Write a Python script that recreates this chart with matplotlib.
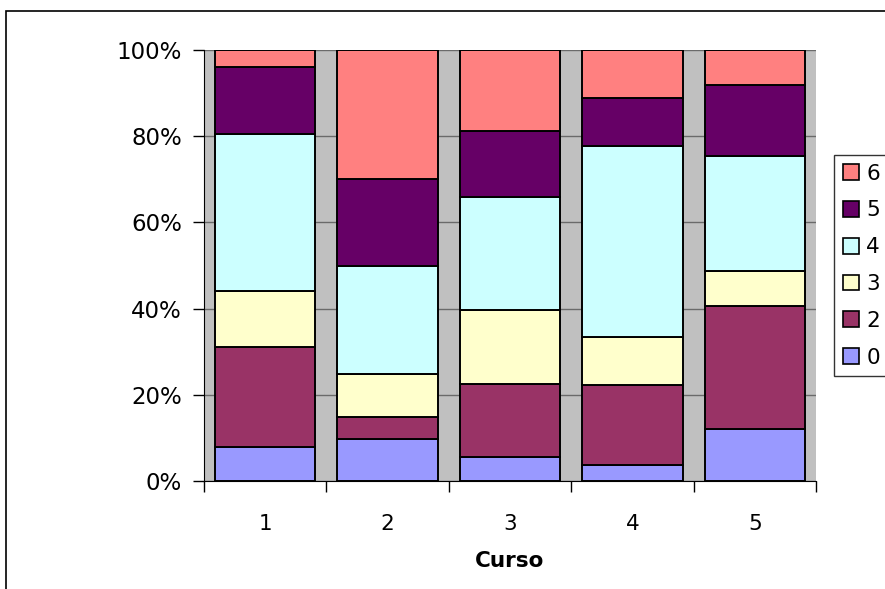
import matplotlib
matplotlib.use("Agg")
import matplotlib.pyplot as plt
from matplotlib.patches import Rectangle, Patch
import numpy as np

plt.rcParams['font.family'] = ['DejaVu Sans']

cursos = ["1", "2", "3", "4", "5"]
series_names = ["0", "2", "3", "4", "5", "6"]
# percentages per curso (stacked, sum 100)
v0 = [7.8, 9.8, 5.6, 3.6, 12.1]
v2 = [23.3, 5.1, 17.0, 18.6, 28.5]
v3 = [13.0, 10.0, 17.0, 11.1, 8.2]
v4 = [36.4, 24.9, 26.3, 44.4, 26.6]
v5 = [15.6, 20.2, 15.3, 11.2, 16.4]
v6 = [3.9, 30.0, 18.8, 11.1, 8.2]
colors = ["#9999FF", "#993366", "#FFFFCC", "#CCFFFF", "#660066", "#FF8080"]
yticklabels = ["0%", "20%", "40%", "60%", "80%", "100%"]

W, H = 885, 589
fig = plt.figure(figsize=(W / 100, H / 100), dpi=100)
fig.patch.set_facecolor("white")

# outer frame
fig.patches.append(Rectangle((6 / W, -0.1), 1.2, 1 - 11 / H + 0.1, transform=fig.transFigure,
                             fill=False, edgecolor="black", linewidth=1.2))

ax = fig.add_axes([204 / W, 1 - 481 / H, (816 - 204) / W, (481 - 50) / H])
ax.set_facecolor("#C0C0C0")

x = np.arange(len(cursos))
data = [v0, v2, v3, v4, v5, v6]
bottom = np.zeros(len(cursos))
handles = []
for name, vals, c in zip(series_names, data, colors):
    ax.bar(x, vals, bottom=bottom, width=0.82, color=c, edgecolor="black",
           linewidth=1.4, zorder=3, label=name)
    bottom += np.array(vals)
    handles.append(Patch(facecolor=c, edgecolor="black", linewidth=1.2, label=name))

ax.set_xlim(-0.5, len(cursos) - 0.5)
ax.set_ylim(0, 100)
ax.set_yticks(np.arange(0, 101, 20))
ax.set_yticklabels(yticklabels)
ax.yaxis.grid(True, color="#6a6a6a", linewidth=1.0, zorder=1)
ax.set_axisbelow(True)

ax.set_xticks(x)
ax.set_xticklabels(cursos)
ax.set_xticks(np.arange(-0.5, len(cursos) + 0.5, 1), minor=True)
ax.tick_params(axis="x", which="major", length=0, pad=24, labelsize=15.5)
ax.tick_params(axis="x", which="minor", length=8, width=1, direction="out", color="black")
ax.tick_params(axis="y", length=8, width=1, direction="out", pad=8, labelsize=16.5)

for s in ["top", "right"]:
    ax.spines[s].set_visible(False)
ax.spines["left"].set_color("black")
ax.spines["bottom"].set_color("black")

ax.set_xlabel("Curso", fontsize=15.5, fontweight="bold", labelpad=12)

leg = fig.legend(handles=handles[::-1], loc="upper left",
                 bbox_to_anchor=(834 / W, 1 - 155 / H), frameon=True, fancybox=False,
                 edgecolor="black", fontsize=15.5, handlelength=0.75, handleheight=0.75,
                 handletextpad=0.35, labelspacing=0.78, borderpad=0.4, borderaxespad=0)
leg.get_frame().set_linewidth(1.0)

fig.savefig("out.png", dpi=100, facecolor="white")
